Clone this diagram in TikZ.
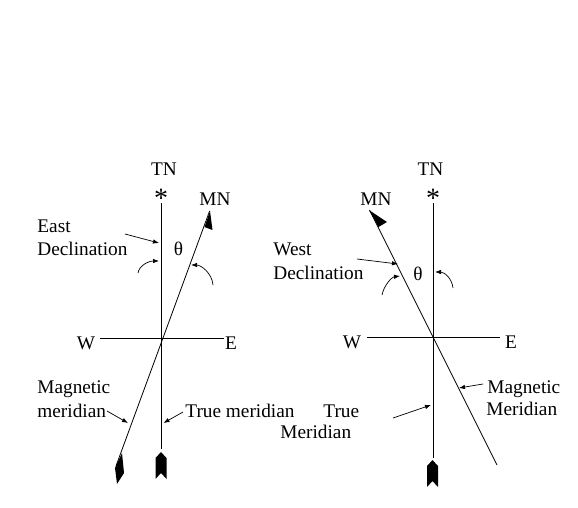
\documentclass[tikz,border=0pt]{standalone}
\usepackage{fontspec}
\setmainfont{Liberation Serif}
\usetikzlibrary{arrows.meta}
\begin{document}
\begin{tikzpicture}[x=1pt,y=-1pt,line width=0.8pt,
  lbl/.style={font=\fontsize{19.3}{22}\selectfont, inner sep=0pt},
  star/.style={font=\fontsize{28}{30}\selectfont, inner sep=0pt},
  ptr/.style={-{Latex[length=6pt,width=4.5pt]}, line width=0.7pt}]
\useasboundingbox (0,0) rectangle (578,507);

% East declination (left)
\coordinate (eo) at (161,338);
\coordinate (etn) at (161,203);
\coordinate (ets) at (161,449);
\coordinate (emn) at (209.6,211);
\coordinate (ems) at (116,466);
\coordinate (ew) at (100,338);
\coordinate (ee) at (224,338);
\draw (etn) -- (ets);
\draw (emn) -- (ems);
\draw (ew) -- (ee);

\node[lbl, anchor=base] (etnlbl) at (164,175) {TN};
\node[star, anchor=base] (estar) at (161,207) {*};
\node[lbl, anchor=base] (emnlbl) at (215,205) {MN};
\node[lbl, anchor=base west] (eeast) at (37,232) {East};
\node[lbl, anchor=base west] (edecl) at (37,255) {Declination};
\node[lbl, anchor=base] (etheta) at (178.5,255) {θ};
\node[lbl, anchor=base] (ewlbl) at (86,349) {W};
\node[lbl, anchor=base] (eelbl) at (231,349) {E};
\node[lbl, anchor=base west] (emag) at (37,393) {Magnetic};
\node[lbl, anchor=base west] (emer) at (37,417) {meridian};
\node[lbl, anchor=base west] (etrue) at (185,417) {True meridian};

% arrow heads and tails
\fill (210,211) -- (204.5,227) -- (212.5,230) -- cycle;
\fill (122,453) -- (124,473) -- (117,484) -- (115,468) -- cycle;
\fill (161,452) -- (166.5,458) -- (166.5,479) -- (161,473) -- (155.5,479) -- (155.5,458) -- cycle;

% pointers
\coordinate (edeclp) at (125,234);
\coordinate (edeclq) at (159,243);
\draw[ptr] (edeclp) -- (edeclq);
\coordinate (emerp) at (107,411);
\coordinate (emerq) at (128,423);
\draw[ptr] (emerp) -- (emerq);
\coordinate (etruep) at (183,412);
\coordinate (etrueq) at (163.5,423);
\draw[ptr] (etruep) -- (etrueq);
\coordinate (ea1) at (138,273);
\coordinate (ea2) at (159,261);
\draw[ptr] (ea1) .. controls (139,266) and (148,261) .. (ea2);
\coordinate (eb1) at (213,285);
\coordinate (eb2) at (191,265);
\draw[ptr] (eb1) .. controls (212,273) and (201,265) .. (eb2);

% West declination (right)
\coordinate (wo) at (433,337);
\coordinate (wtn) at (433,203);
\coordinate (wts) at (433,458);
\coordinate (wmn) at (369.5,210);
\coordinate (wms) at (497,465);
\coordinate (ww) at (367,337);
\coordinate (we) at (500,337);
\draw (wtn) -- (wts);
\draw (wmn) -- (wms);
\draw (ww) -- (we);

\node[lbl, anchor=base] (wtnlbl) at (430.5,175) {TN};
\node[star, anchor=base] (wstar) at (433,207) {*};
\node[lbl, anchor=base] (wmnlbl) at (376,205) {MN};
\node[lbl, anchor=base west] (wwest) at (273,255) {West};
\node[lbl, anchor=base west] (wdecl) at (273,279) {Declination};
\node[lbl, anchor=base] (wtheta) at (418,280) {θ};
\node[lbl, anchor=base] (wwlbl) at (352,348) {W};
\node[lbl, anchor=base] (welbl) at (511,348) {E};
\node[lbl, anchor=base west] (wmag) at (487,393) {Magnetic};
\node[lbl, anchor=base west] (wmer) at (486,415) {Meridian};
\node[lbl, anchor=base west] (wtrue) at (323,417) {True};
\node[lbl, anchor=base west] (wtmer) at (280,438) {Meridian};

% arrow heads and tails
\fill (369,210) -- (387,222) -- (378.5,227) -- cycle;
\fill (432.5,460) -- (438,466) -- (438,487) -- (432.5,481) -- (427,487) -- (427,466) -- cycle;

% pointers
\coordinate (wdeclp) at (357,259);
\coordinate (wdeclq) at (398,264);
\draw[ptr] (wdeclp) -- (wdeclq);
\coordinate (wmagp) at (483,384);
\coordinate (wmagq) at (459,388);
\draw[ptr] (wmagp) -- (wmagq);
\coordinate (wtruep) at (393,418);
\coordinate (wtrueq) at (431,405);
\draw[ptr] (wtruep) -- (wtrueq);
\coordinate (wa1) at (382,295);
\coordinate (wa2) at (400,276);
\draw[ptr] (wa1) .. controls (384,285) and (392,277) .. (wa2);
\coordinate (wb1) at (453,288);
\coordinate (wb2) at (435,272);
\draw[ptr] (wb1) .. controls (452,278) and (444,272) .. (wb2);
\end{tikzpicture}
\end{document}
